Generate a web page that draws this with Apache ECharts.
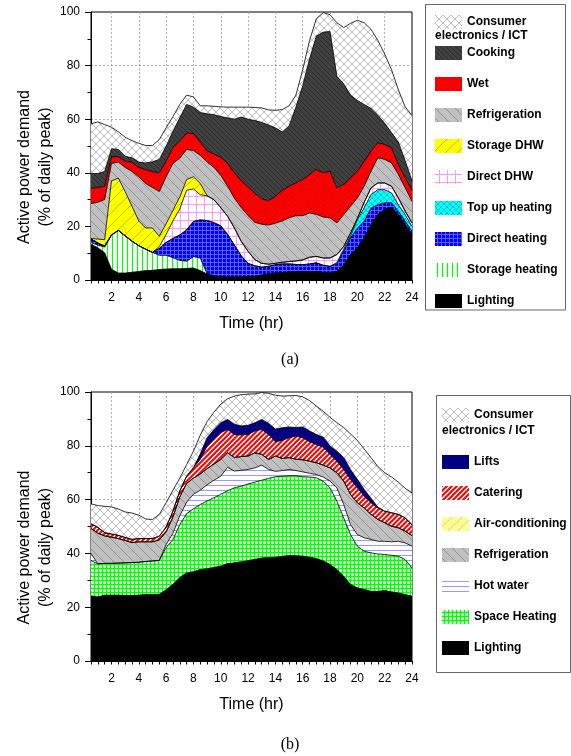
<!DOCTYPE html>
<html>
<head>
<meta charset="utf-8">
<script src="https://cdn.jsdelivr.net/npm/echarts@6/dist/echarts.min.js"></script>
<style>
    html, body { margin: 0; padding: 0; background: #fff; }
    .panel { position: absolute; left: 0; width: 571px; height: 378px; }
    #chart_a { top: 0; }
    #chart_b { top: 378px; }
</style>
</head>
<body>
<div id="chart_a" class="panel"></div>
<div id="chart_b" class="panel"></div>
<script>
/*
    data: upper edge of every layer (% of daily peak)
*/
const hours = [0.5,1,1.5,2,2.5,3,3.5,4, 4.5,5,5.5,6,6.5,7,7.5,8, 8.5,9,9.5,10,10.5,11,11.5,12,
    12.5,13,13.5,14,14.5,15,15.5,16, 16.5,17,17.5,18,18.5,19,19.5,20, 20.5,21,21.5,22,22.5,23,23.5,24];
const x_labels = [2,4,6,8,10,12,14,16,18,20,22,24];
const y_ticks = [0,20,40,60,80,100];

// (a) domestic
const a_lighting = [13.3,12,10.2,4,2.6,2.6,2.9,3.2, 3.5,3.6,3.9,4.1,4.2,4.2,4.3,4.5, 3.5,2.2,1.5,1.2,1.1,1.1,1.1,1.2,
    1.3,1.8,2.3,2.6,2.7,3,3.1,3.2, 3,3.2,2.8,2.6,3.2,5.5,9.5,12, 15.7,20.7,24.4,26.3,27,24.4,20.7,17];
const a_storage_heating = [14,13,12.3,16.8,18.5,16.5,14.5,12.8, 11.5,10.3,9.2,9.2,8.3,7.3,7,8.7, 8.2,2.2,1.5,1.2,1.1,1.1,1.1,1.2,
    1.3,1.8,2.3,2.6,2.7,3,3.1,3.2, 3,3.2,2.8,2.6,3.2,5.5,9.5,12, 15.7,20.7,24.4,26.3,27,24.4,20.7,17];
const a_direct_heating = [15.3,13.8,12.6,16.8,18.5,16.5,14.5,12.8, 11.5,10.3,11.8,14,15.5,16.8,18.7,21.8, 22.4,22.2,21.4,20.2,17,13,9,6.2,
    5.3,4.8,5.1,5.7,6,6,5.8,5.7, 6,6.4,5.5,5.1,6,10.7,15.7,19.4, 21.9,26.9,28.1,28.8,28.8,25.7,21.9,18.2];
const a_top_up_heating = [15.3,13.8,12.6,16.8,18.5,16.5,14.5,12.8, 11.5,10.3,11.8,14,15.5,16.8,18.7,21.8, 22.4,22.2,21.4,20.2,17,13,9,6.2,
    5.3,4.8,5.1,5.7,6,6,5.8,5.7, 6,6.4,5.5,5.1,6.5,11.5,16.5,22.5, 27,31.9,33.7,33.7,32.5,28.1,24.4,20];
const a_direct_dhw = [15.3,13.8,12.6,16.8,18.5,16.5,14.5,12.8, 11.5,10.3,12.5,17,22,26.5,33.5,34, 31.8,31.4,30,27,23.8,19.4,14.4,10.7,
    7.6,6.2,5.9,6.2,6.6,6.9,7.1,7.5, 8.5,8.8,8.2,8.2,9.5,12.5,17.5,23, 29,34.4,36.2,36.2,35,30.6,25.7,21.3];
const a_storage_dhw = [15.5,15.3,15,37,38,33,27.5,22, 19.4,19.4,16.3,21,26,31,37.5,38.5, 36,31.4,30,27,23.8,19.4,14.4,10.7,
    7.6,6.2,5.9,6.2,6.6,6.9,7.1,7.5, 8.5,8.8,8.2,8.2,9.5,12.5,17.5,23, 29,34.4,36.2,36.2,35,30.6,25.7,21.3];
const a_refrigeration = [28.5,29,30,43.5,44,42,40.5,38.5, 36,34.5,33,38.5,43.5,45.5,48.7,48.3, 46.5,44,42,39,35,30.5,27,24,
    21.5,20.8,20.5,21.2,22,23.2,24,24, 25,24.5,23.5,23.2,21.3,24.4,27.5,30.6, 35,40.6,45.6,45,43.7,39.4,34.4,29.4];
const a_wet = [34.2,34.5,35,46,46,44.3,44,42, 41.2,40.4,40,44.3,49.5,51.8,54.8,54.7, 51.5,48.2,47,45.8,43.5,40,37,34.8,
    32.3,30.3,29.6,31.2,33.5,35,36.2,37.5, 39.4,41.2,40,40.6,34.4,35.6,38.1,40.6, 44.3,48.1,51.2,50.6,49.3,43.1,38.1,33.5];
const a_cooking = [39.7,39.7,40.5,49,48.7,46.2,45.6,44, 43.7,44.1,45,49.9,55.5,60.5,65.5,64.5, 62.5,62,61.7,61,60.5,60,60.8,60,
    59.5,58.8,57.8,56.8,55.2,57.5,64.5,72.5, 82.5,91,92.5,92.7,76,73.2,69,67, 65.5,64,61.5,58.5,55,51.5,44.5,37];
const a_consumer = [58.3,59,58,57,55.3,53.3,52,51, 50.2,50.2,52.4,56.8,61,65.5,69,68.3, 65,65,64.8,64.6,64.5,64.5,64.5,64.5,
    64.4,64.2,63.5,63.3,63.6,65,69,78.5, 89.4,97.5,99.8,99,96,94.2,95.8,96.9, 96,93.5,89.4,84.3,78.5,71,64.6,61.4];

// (b) non-domestic
const b_lighting = [24.2,23.8,24.5,24.5,24.5,24.4,24.4,24.5, 24.7,24.7,24.8,26.5,28.5,31,32.8,33.2, 34,34.3,34.8,35.3,36.2,36.5,36.9,37.3,
    37.8,38.3,38.5,38.6,38.9,39.2,39.1,39, 38.6,38.1,37.2,35.9,34,31.5,28.4,27.2, 26.6,25.9,25.9,26.2,25.7,25.3,24.7,24.1];
const b_space_heating = [37.4,36.1,36.3,36.3,36.4,36.5,36.6,36.7, 37,37.2,37.4,42.1,45.2,50.7,54.8,56.6, 58.2,59.5,60.7,62,63.3,64.4,65,65.8,
    66.5,67.2,67.9,68.5,68.7,68.9,68.9,68.5, 68.4,68.1,66.9,64.4,59.4,53.2,47,42.7, 40.8,40.2,39.8,39.6,39.3,39,37.7,34.6];
const b_hot_water = [40,36.1,36.3,36.3,36.4,36.5,36.6,36.7, 37,37.2,37.4,43.3,47.5,54,59,62, 63.5,65.5,67.2,68.7,72,70.6,70.9,71.2,
    71.8,72.8,71.2,70.5,70.8,71.2,70.8,70.3, 69.8,69.3,68.4,66.9,64.4,58.2,50.7,47, 45.8,45.2,44.5,44.5,44.3,44.5,43.9,42.7];
const b_refrigeration = [49.3,47.5,46.5,46,45.5,44.8,44,44.3, 44.3,44.3,45,48,53.5,61,66,68, 69.5,71.5,73.2,74.9,77.4,75.6,76,76.2,
    77.4,76.8,74.9,76.2,75.3,75.6,75,74.8, 74.3,73.7,72.8,71.8,70,66.9,61.9,58.8, 56.9,54.5,52.6,51.4,50.1,49.5,48.3,46.6];
const b_air_conditioning = [49.3,47.5,46.5,46,45.5,44.8,44,44.3, 44.3,44.3,45,48,53.5,61,66,68, 69.5,71.5,73.2,74.9,77.4,75.6,76,76.2,
    77.4,76.8,74.9,76.2,75.3,75.6,75,74.8, 74.3,73.7,72.8,71.8,70,66.9,61.9,58.8, 56.9,54.5,52.6,51.4,50.1,49.5,48.3,46.6];
const b_catering = [51,49.7,47.7,47.2,46.7,45.9,45.2,45.5, 45.5,45.5,46.4,49.8,55.7,63.2,68.7,71.8, 75,79.9,82.5,84.9,86.1,84.2,84,84.2,
    85.5,86.1,84.2,81.5,82,83,83.6,83, 81.5,80.5,79.5,76.8,74.3,71.2,67.5,64.4, 61.3,58.8,56.9,55.7,55.1,54.5,53.2,50.7];
const b_lifts = [51,49.7,47.7,47.2,46.7,45.9,45.2,45.5, 45.5,45.5,46.4,49.8,55.7,63.2,68.7,71.8, 77,83,86,88.6,89.8,88,87.4,87.6,
    88.6,89.8,88.3,86.2,86.7,87,86.8,87, 85.5,84.2,83.2,79.9,78,75.6,71.2,67.5, 63.8,60.5,57.2,55.7,55.1,54.5,53.2,50.7];
const b_consumer = [58.4,57.8,57.5,57.3,56.5,55.4,55,54.2, 52.8,52.6,54.5,58.8,63.5,68,73,78, 84,89,92.5,95.5,97.5,98.5,99,99.2,
    99.3,99.8,99.5,98.8,98.5,98.6,98.7,98.2, 96.8,94.8,92.8,90.6,88.6,86.8,84.4,82, 78.8,75.6,72.3,70,68.4,66.5,64.2,62.5];

const font_sans = 'Liberation Sans, Arial, sans-serif';
const consumer_name = 'Consumer electronics / ICT';

// hatch fills, tiled like the plotting program does
function fnc_pattern(bg, line, kind, size, width){
    if(kind == 'solid'){
        return bg;
    }
    const cnv = document.createElement('canvas');
    cnv.width = size;
    cnv.height = size;
    const ctx = cnv.getContext('2d');
    ctx.fillStyle = bg;
    ctx.fillRect(0, 0, size, size);
    ctx.strokeStyle = line;
    ctx.lineWidth = width;
    ctx.beginPath();
    const mid = Math.floor(size / 2) + 0.5;
    if(kind == 'slash' || kind == 'cross'){
        ctx.moveTo(0, size); ctx.lineTo(size, 0);
        ctx.moveTo(-1, 1); ctx.lineTo(1, -1);
        ctx.moveTo(size - 1, size + 1); ctx.lineTo(size + 1, size - 1);
    }
    if(kind == 'back' || kind == 'cross'){
        ctx.moveTo(0, 0); ctx.lineTo(size, size);
        ctx.moveTo(-1, size - 1); ctx.lineTo(1, size + 1);
        ctx.moveTo(size - 1, -1); ctx.lineTo(size + 1, 1);
    }
    if(kind == 'vert' || kind == 'grid'){
        ctx.moveTo(mid, 0); ctx.lineTo(mid, size);
    }
    if(kind == 'horiz' || kind == 'grid'){
        ctx.moveTo(0, mid); ctx.lineTo(size, mid);
    }
    ctx.stroke();
    return {image: cnv, repeat: 'repeat'};
}

const fill_consumer = fnc_pattern('#ffffff', '#a0a0a0', 'cross', 8, 0.7);
const fill_refrigeration = fnc_pattern('#c0c0c0', '#808080', 'back', 10, 0.7);

function fnc_points(values){
    let points = [];
    for(let i in hours){
        points.push([hours[i], values[i]]);
    }
    return points;
}

function fnc_series(layer){
    return {
        name: layer.name,
        type: 'line',
        data: fnc_points(layer.values),
        symbol: 'none',
        showSymbol: false,
        silent: true,
        lineStyle: {color: '#000', width: 0.8},
        itemStyle: {color: layer.fill},
        areaStyle: {color: layer.fill, opacity: 1, origin: 'start'},
        emphasis: {disabled: true}
    };
}

function fnc_legend_name(name){
    return name == consumer_name ? 'Consumer' : name;
}

function fnc_chart(dom_id, layers, layout){
    let series = [];
    let legend_data = [];
    for(let i in layers){
        series.push(fnc_series(layers[i]));
        legend_data.push({name: layers[i].name, itemStyle: {color: layers[i].fill, borderWidth: 0}});
    }

    let x_grid_colors = hours.map(h => (h % 2 == 0 && h < 24) ? '#9a9a9a' : 'rgba(0,0,0,0)');
    let y_grid_colors = y_ticks.map(v => (v > 0 && v < 100) ? '#9a9a9a' : 'rgba(0,0,0,0)');

    let legend_common = {
        orient: 'vertical',
        icon: 'rect',
        itemWidth: 27,
        itemHeight: 14,
        selectedMode: false,
        padding: 0,
        formatter: fnc_legend_name,
        textStyle: {fontFamily: font_sans, fontWeight: 'bold', fontSize: 12, color: '#000', lineHeight: 14}
    };

    let option = {
        animation: false,
        grid: {
            left: 91, top: layout.grid_top, width: 321, height: layout.grid_height,
            show: true, borderColor: '#000', borderWidth: 1, backgroundColor: 'rgba(0,0,0,0)'
        },
        xAxis: {
            type: 'value', min: 0.5, max: 24, interval: 0.5,
            axisLine: {show: true, lineStyle: {color: '#000', width: 1}},
            axisTick: {show: true, length: 3.5, lineStyle: {color: '#000'}},
            axisLabel: {
                margin: 12, fontSize: 12, color: '#000', fontFamily: font_sans,
                formatter: v => (x_labels.indexOf(v) == -1 ? '' : String(v))
            },
            splitLine: {show: true, lineStyle: {color: x_grid_colors, type: [2, 2], width: 0.8}},
            name: 'Time (hr)', nameLocation: 'middle', nameGap: 36,
            nameTextStyle: {fontSize: 16, color: '#000', fontFamily: font_sans}
        },
        yAxis: {
            type: 'value', min: 0, max: 100, interval: 20,
            axisLine: {show: true, lineStyle: {color: '#000', width: 1}},
            axisTick: {show: true, length: 6, lineStyle: {color: '#000'}},
            minorTick: {show: true, splitNumber: 2, length: 3.5, lineStyle: {color: '#000'}},
            axisLabel: {margin: 11, fontSize: 12, color: '#000', fontFamily: font_sans},
            splitLine: {show: true, lineStyle: {color: y_grid_colors, type: [2, 2], width: 0.8}},
            name: 'Active power demand\n(% of daily peak)', nameLocation: 'middle', nameGap: 35, nameRotate: 90,
            nameMoveOverlap: false,
            nameTextStyle: {fontSize: 16, lineHeight: 21, color: '#000', fontFamily: font_sans, padding: [0, 42, 0, 0]}
        },
        legend: [
            Object.assign({}, legend_common, {left: layout.legend_left, top: layout.first_top, data: legend_data.slice(0, 1)}),
            Object.assign({}, legend_common, {left: layout.legend_left, top: layout.rest_top, itemGap: 17, data: legend_data.slice(1)})
        ],
        graphic: [
            {
                type: 'rect', silent: true,
                shape: {x: layout.box[0], y: layout.box[1], width: layout.box[2], height: layout.box[3]},
                style: {fill: 'none', stroke: '#666', lineWidth: 1}
            },
            {
                type: 'text', silent: true, x: layout.second_line[0], y: layout.second_line[1],
                style: {text: 'electronics / ICT', font: 'bold 12px ' + font_sans, fill: '#000', align: 'left', verticalAlign: 'middle'}
            },
            {
                type: 'text', silent: true, x: 290, y: layout.caption_y,
                style: {text: layout.caption, font: '16px Liberation Serif, Times New Roman, serif', fill: '#000', align: 'center', verticalAlign: 'middle'}
            }
        ],
        series: series
    };

    let chart = echarts.init(document.getElementById(dom_id), null, {renderer: 'canvas'});
    chart.setOption(option);
}

fnc_chart('chart_a', [
    {name: consumer_name, values: a_consumer, fill: fill_consumer},
    {name: 'Cooking', values: a_cooking, fill: fnc_pattern('#404040', '#2c2c2c', 'back', 5, 1)},
    {name: 'Wet', values: a_wet, fill: fnc_pattern('#ff0000', '#cc0000', 'slash', 5, 0.8)},
    {name: 'Refrigeration', values: a_refrigeration, fill: fill_refrigeration},
    {name: 'Storage DHW', values: a_storage_dhw, fill: fnc_pattern('#ffff00', '#a8a800', 'slash', 12, 0.7)},
    {name: 'Direct DHW', values: a_direct_dhw, fill: fnc_pattern('#ffffff', '#ff99ff', 'grid', 8, 1)},
    {name: 'Top up heating', values: a_top_up_heating, fill: fnc_pattern('#00ffff', '#009999', 'cross', 6, 0.6)},
    {name: 'Direct heating', values: a_direct_heating, fill: fnc_pattern('#0000ff', '#7070ff', 'grid', 4, 0.8)},
    {name: 'Storage heating', values: a_storage_heating, fill: fnc_pattern('#ffffff', '#00ff00', 'vert', 5, 1.2)},
    {name: 'Lighting', values: a_lighting, fill: '#000000'}
], {
    grid_top: 12, grid_height: 268,
    legend_left: 435, first_top: 15, rest_top: 46,
    box: [425.5, 4.5, 140, 305.5],
    second_line: [435, 36],
    caption: '(a)', caption_y: 360
});

fnc_chart('chart_b', [
    {name: consumer_name, values: b_consumer, fill: fill_consumer},
    {name: 'Lifts', values: b_lifts, fill: '#000080'},
    {name: 'Catering', values: b_catering, fill: fnc_pattern('#ffffff', '#ff0000', 'slash', 5, 2)},
    {name: 'Air-conditioning', values: b_air_conditioning, fill: fnc_pattern('#ffff99', '#c8c850', 'slash', 10, 0.7)},
    {name: 'Refrigeration', values: b_refrigeration, fill: fill_refrigeration},
    {name: 'Hot water', values: b_hot_water, fill: fnc_pattern('#ffffff', '#9999ff', 'horiz', 5, 1)},
    {name: 'Space Heating', values: b_space_heating, fill: fnc_pattern('#ffffff', '#00ff00', 'grid', 4, 1.4)},
    {name: 'Lighting', values: b_lighting, fill: '#000000'}
], {
    grid_top: 14, grid_height: 269,
    legend_left: 442, first_top: 30, rest_top: 77,
    box: [436.5, 17.5, 134, 277],
    second_line: [442, 53],
    caption: '(b)', caption_y: 367
});
</script>
</body>
</html>
